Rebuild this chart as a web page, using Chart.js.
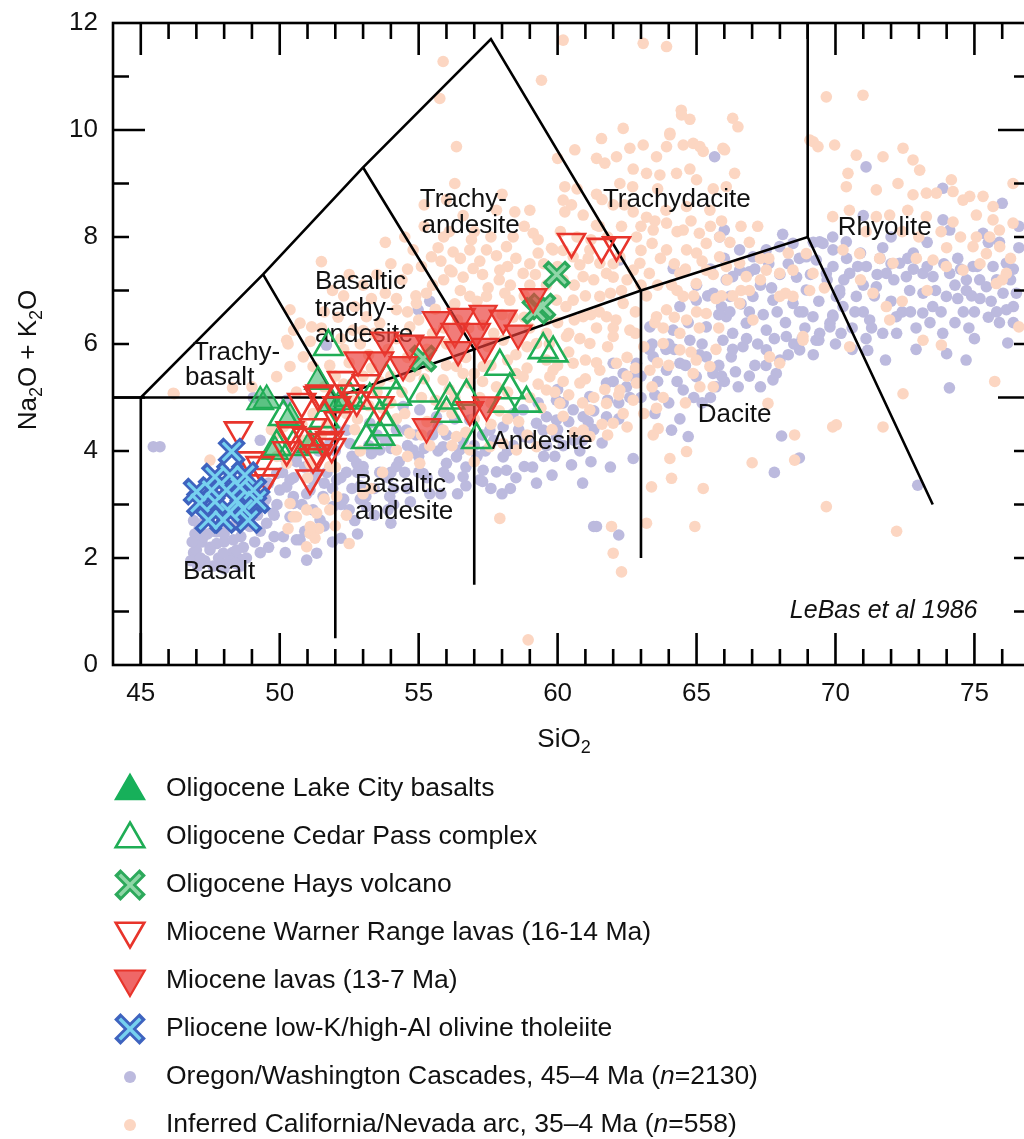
<!DOCTYPE html>
<html><head><meta charset="utf-8">
<script src="https://cdn.jsdelivr.net/npm/chart.js@4.4.1/dist/chart.umd.min.js"></script>
<style>
html,body{margin:0;padding:0;background:#fff;overflow:hidden;width:1024px;height:1139px}
#wrap{position:relative;width:1040px;height:1139px}
canvas{display:block}
</style></head>
<body><div id="wrap"><canvas id="c" width="1040" height="1139"></canvas></div>
<script>
// ---------------- DATA ----------------
const X_TICKS = [45, 50, 55, 60, 65, 70, 75];
const Y_TICKS = [0, 2, 4, 6, 8, 10, 12];
const X_TITLE = ['Si', 'O', '2'];
const Y_TITLE = ['Na', '2', 'O + K', '2', 'O'];
const SERIES_NAMES = [
  'Oligocene Lake City basalts',
  'Oligocene Cedar Pass complex',
  'Oligocene Hays volcano',
  'Miocene Warner Range lavas (16-14 Ma)',
  'Miocene lavas (13-7 Ma)',
  'Pliocene low-K/high-Al olivine tholeiite',
  'Oregon/Washington Cascades, 45\u20134 Ma (n=2130)',
  'Inferred California/Nevada arc, 35\u20134 Ma (n=558)'
];
const SOURCE_NOTE = 'LeBas et al 1986';

const LAKE_CITY = [[49.3,4.92],[49.53,4.95],[49.83,3.99],[50.37,4.61],[51.09,4.11],[51.38,5.3],[51.87,4.89],[52.22,4.92]];
const CEDAR_PASS = [[51.75,5.95],[53.84,5.33],[53.24,4.95],[54.2,5.02],[55.16,5.08],[53.6,4.64],[53.84,4.45],[53.12,4.21],[53.6,4.27],[56.12,4.95],[56.72,5.02],[56.0,4.7],[57.92,5.58],[58.28,5.14],[58.88,4.89],[58.04,4.89],[57.08,4.21],[59.48,5.89],[59.84,5.83],[50.13,4.64],[50.49,4.08],[49.89,4.08],[52.5,5.0],[51.6,4.6]];
const HAYS = [[59.97,7.3],[59.45,6.7],[59.2,6.62],[55.16,5.73]];
const WARNER = [[48.51,4.39],[48.93,3.83],[49.29,3.74],[49.53,3.52],[49.41,3.4],[50.43,4.3],[50.79,4.92],[51.38,5.05],[51.2,4.45],[51.56,4.17],[51.09,3.49],[51.38,3.96],[51.87,4.08],[52.1,4.58],[52.05,4.86],[52.22,5.33],[53.12,5.27],[52.53,5.08],[51.45,5.08],[53.6,4.86],[52.77,4.95],[50.37,4.39],[50.97,4.27],[51.8,4.21],[51.2,3.89],[50.25,4.02],[60.5,7.91],[61.58,7.82],[62.12,7.85]];
const MIOCENE = [[55.64,6.45],[56.54,6.51],[57.32,6.57],[58.04,6.48],[59.12,6.88],[58.58,6.2],[56.3,6.23],[57.08,6.23],[57.38,5.95],[56.42,5.89],[55.4,5.98],[54.68,6.01],[53.78,6.07],[54.44,5.61],[53.6,5.7],[52.82,5.7],[55.28,4.45],[56.84,4.77],[57.44,4.86]];
const PLIOCENE = [[48.27,3.99],[47.67,3.52],[48.21,3.55],[48.75,3.55],[47.01,3.24],[47.55,3.27],[48.09,3.27],[48.57,3.33],[49.05,3.27],[47.13,3.03],[47.67,3.05],[48.21,2.86],[48.69,2.92],[49.17,3.08],[47.43,2.71],[47.97,2.71],[48.87,2.71],[48.45,3.08]];

const CASCADES = [
[46.9,2.1],[47.2,2.3],[47.5,2.2],[47.8,2.0],[48.0,2.3],[48.3,2.1],[47.6,2.5],[48.1,2.6],[48.6,2.4],[48.9,2.6],[47.3,2.7],[46.9,2.7],[48.5,2.0],[47.9,1.9],[47.0,2.15],[47.25,2.4],[47.73,2.27],[48.33,2.34],[48.69,2.2],[47.97,2.09],[47.49,2.15],[48.45,2.15],[47.73,2.49],[48.93,2.59],[49.53,2.65],[49.41,2.96],[49.2,2.8],[49.5,3.1],[49.0,3.1],[48.2,1.95],[46.8,1.95],[47.1,2.55],[45.45,4.08],[45.69,4.08],
[47.3,1.95],[47.6,1.85],[48.4,1.9],[48.8,2.0],[48.0,2.45],[47.4,2.45],[48.3,2.6],[49.1,2.3],[48.7,2.75],[47.9,2.8],[49.8,2.4],[49.9,3.0],[46.95,2.45],
[47.05,1.85],[48.0,1.8],[48.6,1.85],[49.3,2.1],[49.6,2.2],[49.3,2.5],[50.2,2.1],[49.8,2.8],[47.15,2.0],[46.85,2.3],
[49.89,3.58],[50.37,3.46],[50.49,3.15],[51.09,3.27],[51.56,3.15],[52.05,3.46],[50.13,3.89],[50.0,3.27],[49.77,2.84],[50.37,2.77],[50.13,2.4],[50.73,2.34],[50.97,1.96],[51.33,2.09],[50.6,2.34],[51.2,3.46],[52.77,3.77],[53.96,3.15],[55.16,3.58],[56.0,3.77],[56.48,4.02],[57.2,3.46],[58.16,3.64],[52.41,4.39],[51.8,4.14],[50.72,3.96],[50.25,3.33],[50.97,3.2],[51.92,2.96],[51.45,2.71],[50.49,3.02],[53.12,2.96],[52.2,2.37],[54.0,2.65],[52.6,3.3],[53.0,3.6],[53.4,3.3],[53.9,3.5],[54.3,3.8],[54.0,4.05],[52.6,3.9],[53.2,4.1],[50.9,3.7],[52.3,3.1],[51.7,3.6],[52.9,3.35],[54.6,3.3],[55.0,3.9],[54.44,4.83],[55.04,4.77],[55.64,4.64],[55.88,4.08],[56.36,3.89],[54.8,4.02],[54.2,3.71],[53.6,4.02],[53.0,3.71],[52.64,3.89],[52.04,4.39],[52.53,4.14],[53.24,4.52],[54.56,4.39],[49.05,5.0],[50.25,4.95],[49.3,4.2],[51.68,5.98],[55.4,6.8],[54.98,6.64],
[50.5,3.5],[50.8,3.0],[51.3,3.6],[51.2,2.9],[51.9,3.3],[52.4,3.6],[52.0,4.0],[52.9,3.1],[53.6,3.6],[53.5,4.3],[54.1,3.3],[54.5,3.6],[54.9,4.3],[55.3,3.5],[55.7,4.0],[56.1,3.5],[56.7,3.7],[57.1,3.9],[56.3,4.6],[55.7,4.45],[54.2,4.4],[53.4,2.8],[52.7,2.7],[53.9,2.9],[54.7,3.05],[55.8,3.2],[50.1,3.6],[49.6,3.4],[51.4,4.0],[52.2,3.0],
[50.6,3.8],[51.6,3.4],[52.2,3.5],[52.8,3.6],[53.3,3.95],[53.8,4.2],[54.6,4.1],[55.2,4.05],[55.9,3.6],[56.6,4.2],[57.3,4.3],[54.1,3.0],[53.1,3.15],[52.5,2.9],[51.6,2.6],[51.9,2.3],[50.9,2.5],[52.8,2.45],[55.4,3.2],[56.4,3.2],[57.6,3.3],[55.0,3.6],[54.0,3.6],[56.7,3.35],[58.0,3.2],
[57.56,4.39],[58.04,4.45],[58.76,4.27],[59.24,4.52],[59.6,4.64],[59.96,4.95],[58.04,3.89],[57.32,3.64],[56.6,3.52],[59.96,4.27],[58.76,4.77],[56.84,4.58],[57.8,3.61],[57.3,3.43],[58.8,3.71],[59.24,3.4],[60.5,3.74],[61.3,2.59],[62.72,3.86],[61.4,2.59],[62.2,2.43],[59.48,4.39],[59.96,4.58],[60.56,4.77],[61.16,5.02],[61.76,5.27],[60.92,4.64],[61.76,4.64],[62.48,5.2],[62.84,5.64],[63.44,5.76],[62.36,5.45],[62.0,5.64],[60.2,4.1],[59.5,3.9],[58.4,4.1],[57.0,4.1],[56.0,4.3],[55.5,4.3],[60.9,4.2],[61.3,4.4],[58.3,3.3],[59.8,3.55],
[57.7,4.2],[58.2,4.0],[58.6,4.4],[59.0,4.25],[59.6,4.1],[60.0,4.4],[60.4,4.55],[60.8,4.0],[61.3,4.75],[61.8,4.95],[62.2,4.9],[62.0,5.3],[62.7,5.4],[63.0,5.0],[63.3,5.9],[63.9,5.9],[58.5,3.5],[59.1,3.7],[59.9,3.9],[57.4,4.0],
[60.2,4.9],[60.6,4.2],[61.1,4.55],[61.6,4.15],[62.2,4.6],[62.6,5.0],[63.0,5.4],[63.5,5.05],[58.4,4.7],[59.3,4.9],[60.0,5.15],[61.2,3.8],[61.9,3.7],[60.9,3.4],
[64.1,4.39],[64.7,4.27],[66.4,5.48],[66.25,5.76],[67.75,5.33],[67.87,5.45],[69.4,6.07],[69.8,6.39],[69.9,6.54],[65.6,6.95],[66.07,7.2],[66.55,7.38],[67.03,7.63],[67.51,7.76],[67.99,7.82],[68.47,7.88],[69.55,7.88],[69.91,7.76],[67.03,6.89],[67.75,6.82],[68.47,6.76],[68.95,7.01],[69.19,6.51],[66.07,6.51],[66.79,6.39],[67.51,6.26],[68.23,6.14],[68.71,5.89],[65.35,6.32],[64.76,6.07],[65.95,6.07],[66.67,5.95],[67.51,5.89],[65.35,5.76],[64.4,5.64],[63.92,5.51],[64.99,5.39],[65.59,5.45],[64.52,5.14],[63.32,6.32],[64.16,6.26],[64.4,6.7],[64.99,6.82],[66.2,6.89],[66.55,7.76],[65.83,8.0],[68.95,7.63],[69.67,7.32],[70.03,6.89],[68.06,4.28],[67.8,3.6],[68.7,3.87],[66.9,6.6],[67.3,7.1],[68.0,7.3],[68.6,7.25],[65.9,6.7],[65.2,6.0],[66.3,6.2],[67.1,5.6],[65.7,5.2],[64.2,5.9],[63.6,5.3],[65.0,7.1],[64.16,7.41],[66.3,7.26],[62.24,7.57],[65.65,9.5],[66.0,8.13],
[64.6,5.6],[65.1,5.8],[65.8,5.6],[66.3,5.9],[66.8,6.1],[67.2,6.0],[67.8,6.1],[68.2,6.4],[68.0,5.7],[68.5,6.0],[69.2,5.8],[66.5,5.2],[67.3,5.2],[65.2,4.9],[64.0,4.9],[64.4,4.6],[63.5,4.7],[65.8,6.55],[67.4,6.55],[68.9,6.3],[67.7,7.05],[68.3,7.5],[69.1,7.3],[66.9,7.35],[66.0,7.6],[65.5,7.4],[68.1,8.05],
[64.3,5.3],[64.9,5.0],[65.5,5.0],[66.0,5.3],[66.9,5.4],[67.5,5.6],[68.3,5.8],[68.8,6.1],[66.6,6.75],[66.2,6.6],[67.9,6.6],[68.7,6.6],[69.4,6.8],[67.1,7.4],[67.6,7.5],[68.7,7.6],[69.2,7.9],[65.4,6.9],[64.7,6.4],[64.0,6.0],[63.4,6.0],[65.9,5.4],
[71.1,9.31],[73.87,8.32],[73.86,8.91],[76.0,8.63],[76.2,6.02],[74.1,5.18],[72.96,3.36],[72.2,6.2],[73.14,6.58],[73.86,6.2],[74.0,5.82],[71.16,5.88],[69.3,6.07],[69.8,6.32],[70.15,6.95],[76.4,6.7],[69.43,7.91],[69.9,8.0],[70.39,7.91],[69.31,7.57],[69.91,7.45],[70.51,7.32],[71.11,7.45],[71.83,7.32],[72.31,7.51],[72.55,7.26],[73.15,7.32],[73.51,7.26],[74.11,7.32],[74.71,7.2],[75.19,7.2],[75.67,7.45],[76.15,7.51],[76.51,6.95],[70.15,7.01],[70.75,6.89],[71.47,7.07],[72.67,7.0],[73.15,6.95],[73.99,6.89],[74.71,7.0],[75.43,7.07],[76.03,6.95],[70.27,6.7],[71.23,6.45],[72.19,6.51],[76.15,6.64],[69.91,6.51],[69.43,6.2],[74.11,8.13],[75.31,8.07],[74.95,7.45],[70.9,7.7],[71.7,7.8],[72.8,7.7],[74.4,7.6],[75.9,7.9],[76.6,7.8],[71.4,6.9],[72.9,6.3],[74.6,6.6],[75.5,6.5],[70.6,6.3],[71.8,5.7],[75.0,6.1],[76.6,8.2],[68.83,6.6],
[70.4,7.6],[71.0,7.1],[71.6,7.6],[72.1,7.2],[72.8,7.4],[73.6,7.0],[74.3,7.1],[74.9,6.9],[75.6,6.8],[76.3,7.2],[70.2,6.2],[71.0,6.6],[71.7,6.2],[72.4,6.6],[73.5,6.7],[74.3,6.4],[75.0,6.6],[75.9,6.4],[70.6,5.9],[72.9,5.9],[74.7,5.7],[73.3,7.9],[72.0,8.0],[75.5,7.9],[71.0,8.4],
[69.7,7.2],[70.3,7.2],[70.8,7.45],[71.5,7.3],[72.0,7.5],[72.6,7.6],[73.3,7.45],[73.9,7.5],[74.5,7.4],[75.1,7.45],[75.8,7.2],[76.4,7.4],[70.7,6.6],[71.3,6.3],[72.0,6.8],[72.7,6.6],[73.8,6.6],[74.4,6.85],[75.2,6.85],[75.8,6.6],[76.4,6.4],[73.4,6.4],[74.8,6.3],[70.0,6.0],[71.1,6.1]
];

const CAL_NEV = [
[55.88,11.28],[55.76,10.59],[59.42,10.93],[60.2,11.68],[63.08,11.62],[63.92,11.56],[56.36,9.69],[56.3,9.0],[58.46,8.47],[60.62,9.63],[60.0,9.47],[60.26,8.94],[60.2,8.69],[60.26,8.47],[64.46,10.28],[64.76,10.2],[66.3,10.22],[62.36,10.03],[61.58,9.84],[61.4,9.47],[61.7,9.38],[62.12,9.5],[62.6,9.66],[63.08,9.72],[63.56,9.5],[63.92,9.69],[64.04,9.91],[64.52,9.72],[64.88,9.75],[65.24,9.6],[65.95,9.66],[62.72,9.27],[63.2,9.19],[63.68,9.16],[64.28,9.19],[64.76,9.27],[65.0,9.07],[62.24,9.0],[62.7,8.94],[60.92,8.41],[61.4,8.22],[62.72,8.47],[63.2,8.37],[63.44,8.13],[63.92,8.26],[64.52,8.13],[65.1,8.07],[65.83,8.0],[64.64,8.57],[65.48,8.5],[66.07,8.94],[66.37,9.19],[64.45,10.37],[66.49,10.06],[66.01,9.63],[65.12,9.69],[64.04,9.94],
[59.12,8.07],[59.78,7.79],[58.16,7.82],[57.44,7.76],[56.84,7.76],[56.24,7.72],[56.12,7.38],[56.96,7.41],[57.92,7.38],[58.76,7.32],[60.8,7.48],[61.52,7.51],[62.72,7.38],[55.46,7.63],[54.8,7.76],[55.5,7.1],[56.5,7.0],[57.5,7.05],[58.3,7.1],[59.2,7.3],[60.2,7.2],[54.9,6.9],[55.28,6.95],[56.84,6.89],[57.44,6.89],[58.28,6.82],[59.96,6.82],[59.6,6.45],[58.04,6.07],[59.24,6.01],[54.2,6.64],[54.68,6.32],[54.92,6.76],[53.12,6.51],[53.6,6.39],[52.64,6.26],[60.8,6.1],[61.5,6.6],[62.3,7.0],
[55.1,7.45],[55.8,7.55],[56.5,7.6],[57.2,7.55],[57.8,7.65],[58.5,7.6],[59.3,7.7],[59.5,7.5],[60.2,7.75],[55.9,8.0],[57.0,8.1],[58.8,8.2],[56.6,8.4],[57.8,8.5],[55.2,8.2],
[53.8,6.95],[54.4,7.2],[55.9,7.2],[56.3,6.75],[57.1,6.8],[57.9,7.2],[58.8,6.9],[59.6,7.1],[60.3,6.7],[61.0,6.9],[61.9,6.95],[62.5,7.2],[53.3,6.85],[54.0,7.5],
[52.1,6.5],[52.7,6.7],[53.4,6.2],[54.2,6.1],[55.0,6.45],[55.9,6.3],[56.8,6.3],[57.7,6.2],[58.4,6.5],[59.0,6.3],[60.0,6.4],[60.6,6.45],[61.4,6.3],[62.1,6.45],[62.8,6.6],[63.2,6.9],[63.6,7.1],
[51.1,6.05],[51.8,5.6],[52.5,5.65],[53.2,5.8],[53.9,5.9],[54.6,5.75],[55.3,5.9],[56.0,6.0],[56.7,5.75],[57.5,5.95],[58.2,5.7],[58.9,5.95],[59.7,6.0],[60.4,5.85],[61.0,5.7],[61.8,5.95],[62.5,5.75],[63.1,5.95],[63.8,6.3],
[50.6,5.1],[51.6,5.2],[52.3,5.25],[53.0,5.4],[53.6,5.3],[54.4,5.1],[55.2,5.35],[56.1,5.15],[56.6,5.45],[57.3,5.3],[58.2,5.1],[58.9,5.55],[59.3,5.25],[60.4,5.05],[61.0,5.35],[61.7,5.15],[62.5,5.4],[63.4,5.2],[64.0,5.6],[64.4,6.2],
[51.2,4.7],[52.8,4.6],[53.7,4.8],[54.5,4.7],[55.3,4.55],[56.2,4.7],[57.0,4.6],[57.9,4.75],[58.6,4.55],[59.4,4.8],[60.2,4.65],[60.9,4.9],[61.6,4.5],[62.5,4.45],[63.1,4.7],
[52.6,4.95],[54.0,4.9],[55.6,4.95],[57.6,4.9],[59.9,5.1],[61.3,5.0],[62.2,5.05],[63.8,5.0],[64.6,4.9],
[52.0,5.4],[53.3,5.55],[54.9,5.5],[56.0,5.6],[57.0,5.45],[58.5,5.45],[60.0,5.6],[61.4,5.65],[62.8,5.55],[63.6,5.65],[64.8,5.85],[65.7,5.9],
[51.5,6.3],[52.2,6.1],[53.0,6.25],[54.6,6.6],[55.5,6.2],[56.4,6.45],[57.3,6.35],[58.0,6.55],[58.8,6.5],[59.6,6.2],[60.4,6.2],[61.2,6.55],[62.0,6.3],[62.8,6.2],[63.5,6.4],[64.2,6.5],[65.0,6.6],[65.9,6.9],[66.6,7.0],
[52.3,6.9],[53.0,7.1],[54.2,6.85],[55.6,6.65],[56.6,7.25],[58.1,6.95],[59.0,7.1],[60.6,7.1],[61.3,7.2],[62.0,7.25],[63.0,7.1],[64.3,7.0],[64.9,6.9],[65.7,6.85],[67.3,7.2],[68.2,6.95],
[52.5,7.3],[53.5,7.3],[54.6,7.4],[55.7,7.8],[56.2,7.35],[57.3,7.3],[58.2,7.45],[59.0,7.5],[60.0,7.45],[61.1,7.6],[62.0,7.5],[63.0,7.75],[64.2,7.5],[65.2,7.55],[66.1,7.2],[67.6,7.6],[68.3,7.7],
[53.8,7.9],[54.5,8.0],[56.1,8.1],[56.9,7.95],[57.6,8.0],[58.4,8.0],[59.3,7.95],[60.7,8.0],[61.5,8.2],[62.3,8.2],[63.5,8.3],[64.8,8.3],[65.9,8.3],[66.6,8.2],[67.2,8.2],[55.2,8.6],[56.0,8.7],[58.0,8.8],[59.0,8.5],[60.5,8.6],[61.4,8.8],[62.0,8.6],
[51.5,7.54],[51.9,7.0],[51.15,6.32],[50.5,6.26],[50.3,6.0],[50.37,6.64],[50.73,6.39],[50.25,6.07],[50.85,5.76],[50.37,5.58],[49.89,5.39],[51.2,5.58],[52.3,5.9],[52.9,6.0],[51.6,6.6],[46.2,5.07],[48.3,5.18],[49.0,5.2],
[57.32,5.58],[56.36,5.58],[55.4,5.58],[54.68,5.39],[55.88,5.33],[56.84,5.27],[57.8,5.2],[58.76,5.39],[59.72,5.39],[55.88,4.83],[54.68,4.33],[55.88,4.39],[56.36,4.27],[56.84,4.02],[57.56,4.08],[58.04,4.14],[58.52,4.02],[59.24,4.08],[54.2,4.02],[55.04,3.77],[53.5,5.1],[54.0,5.4],[55.1,5.0],[56.3,5.0],[57.2,5.0],[58.2,4.6],[59.0,5.0],[59.6,5.7],[58.5,5.8],[57.6,5.6],[60.2,5.3],[60.08,4.89],[59.6,5.14],[60.8,5.27],[61.52,5.51],[62.12,5.64],[60.56,5.64],[59.84,5.51],[61.16,6.01],[60.32,6.14],[62.0,6.14],[62.6,6.26],[61.76,6.51],[60.92,6.51],[62.36,6.76],[61.52,6.89],[60.56,6.82],[60.92,7.26],[61.76,7.32],[62.24,7.63],[61.16,7.76],[60.56,7.63],[59.84,7.76],[62.96,7.51],[63.3,7.32],[64.4,7.32],[66.07,7.45],[66.55,7.51],[66.79,7.26],[62.84,8.0],[63.4,7.88],[63.92,7.76],[64.64,7.76],[65.35,7.88],[65.83,7.63],[67.51,7.38],[67.99,7.32],[68.47,7.38],[67.99,6.89],[68.47,6.89],[68.83,6.07],[67.63,5.76],[67.99,5.64],[67.03,6.45],[66.55,6.76],[65.35,7.38],[64.99,7.13],[64.52,6.89],[63.92,6.64],[63.56,6.51],[64.64,6.45],[65.35,6.57],[63.8,6.01],[64.4,5.89],[64.99,5.7],[65.48,5.58],[65.12,5.2],[65.6,5.2],[64.88,5.45],[63.32,5.51],[62.84,5.27],[62.24,5.14],[61.76,4.89],[61.16,4.77],[62.36,4.7],[62.72,4.95],[62.0,4.52],[60.92,4.39],[61.16,4.27],
[63.7,7.6],[64.1,7.1],[64.6,7.4],[65.0,7.7],[65.6,7.3],[66.2,7.9],[66.9,7.9],[67.3,7.6],[66.3,6.9],[65.8,6.3],[65.1,6.3],[66.9,7.0],[63.9,8.5],[64.3,8.1],[65.5,8.2],[63.0,8.2],[61.8,8.0],[61.2,7.95],[60.1,8.1],[62.4,8.6],[61.6,8.7],[60.7,8.9],[63.6,8.9],[65.6,8.9],
[52.0,3.7],[52.9,4.0],[53.7,3.6],[54.6,3.9],[55.4,4.1],[56.2,4.1],[57.0,3.8],[53.3,3.3],[52.4,2.8],[51.6,3.1],[50.2,3.9],[49.7,4.4],[49.3,3.2],[48.6,3.7],[50.8,4.5],[51.5,4.3],[52.7,4.4],
[50.9,4.2],[51.7,4.5],[52.4,4.7],[53.2,4.85],[54.2,4.6],[55.1,4.3],[56.7,4.35],[57.6,4.5],[58.9,4.3],[59.8,4.4],[60.6,4.35],[61.8,4.3],[53.0,3.2],[51.0,3.5],[49.9,3.9],[51.4,2.55],[52.0,2.6],[50.3,2.55],
[47.49,3.83],[50.6,2.77],[50.97,2.9],[51.33,2.84],[51.09,2.46],[50.37,3.02],[52.05,3.15],[51.8,2.9],[50.73,4.08],[50.25,3.77],[51.09,3.77],[51.8,3.71],[46.17,5.08],[49.89,4.33],[50.13,4.45],[57.92,2.74],[58.94,0.47],[52.5,2.27],[51.27,2.37],[50.97,2.21],[50.49,2.77],[51.1,2.59],[63.56,4.8],[63.44,4.3],[63.62,4.42],[64.04,3.86],[64.64,3.99],[64.1,3.49],[63.38,3.33],[65.24,3.3],[63.2,2.65],[64.94,2.59],[61.94,2.59],[68.53,3.83],[68.53,4.3],[67.57,4.89],[69.9,4.45],[62.3,1.74],[62.0,2.09],[72.2,2.5],[67.0,3.78],
[69.67,10.62],[70.99,10.65],[69.2,9.78],[69.97,9.72],[70.75,9.53],[71.71,9.5],[72.43,9.66],[72.79,9.44],[73.03,9.25],[70.45,9.19],[70.39,8.94],[71.47,8.88],[72.25,9.0],[72.79,8.79],[73.27,8.82],[73.63,8.82],[74.17,9.07],[74.23,8.85],[74.59,8.69],[74.83,8.76],[75.31,8.76],[75.67,8.57],[76.39,9.0],[69.9,8.38],[71.47,8.38],[71.95,8.41],[73.27,8.38],[74.23,8.28],[75.07,8.41],[75.67,8.32],[75.07,8.0],[75.55,8.0],[75.9,8.13],[76.39,8.26],[68.95,7.69],[70.27,7.76],[70.87,7.69],[71.59,7.6],[72.07,7.51],[72.91,7.6],[73.51,7.57],[73.99,7.45],[74.59,7.38],[74.95,7.82],[75.43,7.69],[75.91,7.82],[76.15,7.32],[75.79,7.13],[71.35,6.95],[71.83,6.7],[71.95,6.45],[70.51,5.95],[73.15,6.07],[73.81,5.98],[69.19,7.32],[69.07,7.0],[68.83,6.14],[72.43,5.07],[70.03,4.49],[71.71,4.45],[75.73,5.3],[69.67,2.96],[76.6,6.32],[69.08,9.81],[69.37,9.69],
[72.4,8.1],[73.0,8.0],[73.8,8.1],[74.5,8.0],[76.3,7.6],[71.1,8.1],[70.5,8.5],[72.6,8.5],[74.0,7.8],[76.0,7.2],[75.2,7.5],[73.3,7.0],[72.4,6.8],[70.9,7.2],[69.6,7.05]
];

// TAS field boundaries (Le Bas et al. 1986), as drawn
const BOUNDARIES = [
  [[44,5],[52,5],[57,5.9],[63,7],[69,8],[73.5,3]],
  [[45,0],[45,5],[49.4,7.3],[53,9.3],[57.6,11.7],[63,7],[63,2]],
  [[49.4,7.3],[52,5],[52,0.5]],
  [[53,9.3],[57,5.9],[57,1.5]],
  [[69,8],[69,12]]
];
const FIELD_NAMES = ['Trachy-','basalt','Basaltic','trachy-','andesite','Trachy-','andesite','Trachydacite','Rhyolite','Dacite','Andesite','Basaltic','andesite','Basalt'];
// label anchor (left, middle) in data units
const FIELD_ANCHORS = [[46.88,5.83],[46.59,5.36],[51.27,7.16],[51.27,6.66],[51.27,6.18],[55.04,8.69],[55.1,8.2],[61.63,8.69],[70.08,8.17],[65.04,4.67],[57.62,4.17],[52.71,3.36],[52.71,2.87],[46.52,1.74]];
const NOTE_ANCHOR = [75.11, 1.0];

// ---------------- STYLE ----------------
const F = '"Liberation Sans", Arial, Helvetica, sans-serif';
const C = {
  lav:'#bcbade', peach:'#fcd6c2',
  green:'#1fad55', greenFill:'rgba(50,178,100,0.55)', greenSolid:'#17b05a',
  hOut:'#2ca95b', hIn:'#90d6a7',
  red:'#e8342b', redFill:'rgba(234,62,58,0.68)', redSolid:'#ef6767',
  bOut:'#3e63bf', bIn:'#76d1ef'
};
const P = a => a.map(p => ({x:p[0], y:p[1]}));

function dots(data, color, order){
  return {data:P(data), pointRadius:5.8, pointHoverRadius:5.8, pointBackgroundColor:color, pointBorderColor:color, pointBorderWidth:0, order};
}
function sym(data, o){ return Object.assign({data:P(data), pointHoverRadius:o.pointRadius}, o); }

const datasets = [];
datasets.push(dots(CASCADES, C.lav, 100));
datasets.push(dots(CAL_NEV, C.peach, 95));
BOUNDARIES.forEach((b,i) => datasets.push({data:P(b), showLine:true, borderColor:'#000', borderWidth:2.6, pointRadius:0, pointHoverRadius:0, tension:0, fill:false, order:80-i}));
datasets.push(sym(LAKE_CITY, {pointStyle:'triangle', pointRadius:15, pointBackgroundColor:C.greenFill, pointBorderColor:C.green, pointBorderWidth:2, order:60, labelsBefore:true}));
datasets.push(sym(CEDAR_PASS, {pointStyle:'triangle', pointRadius:16.5, pointBackgroundColor:'rgba(0,0,0,0)', pointBorderColor:C.green, pointBorderWidth:2.6, order:58}));
datasets.push(sym(HAYS, {pointStyle:'crossRot', pointRadius:16, pointBorderColor:C.hOut, pointBorderWidth:8.5, order:56}));
datasets.push(sym(HAYS, {pointStyle:'crossRot', pointRadius:12.5, pointBorderColor:C.hIn, pointBorderWidth:3.2, order:55}));
datasets.push(sym(WARNER, {pointStyle:'triangle', pointRotation:180, pointRadius:15.5, pointBackgroundColor:'rgba(0,0,0,0)', pointBorderColor:C.red, pointBorderWidth:2.6, order:54}));
datasets.push(sym(MIOCENE, {pointStyle:'triangle', pointRotation:180, pointRadius:15.5, pointBackgroundColor:C.redFill, pointBorderColor:C.red, pointBorderWidth:2.2, order:52}));
datasets.push(sym(PLIOCENE, {pointStyle:'crossRot', pointRadius:16, pointBorderColor:C.bOut, pointBorderWidth:8.5, order:50}));
datasets.push(sym(PLIOCENE, {pointStyle:'crossRot', pointRadius:12.5, pointBorderColor:C.bIn, pointBorderWidth:3.2, order:49}));

// ---------------- helpers ----------------
function richText(ctx, parts, x, y, size, align){
  const fontOf = p => (p.it?'italic ':'') + (p.sub?Math.round(size*0.68):size) + 'px ' + F;
  const w = parts.map(p => { ctx.font = fontOf(p); return ctx.measureText(p.t).width; });
  const total = w.reduce((a,b)=>a+b,0);
  let cx = align==='center' ? x - total/2 : (align==='right' ? x - total : x);
  ctx.textAlign = 'left';
  parts.forEach((p,i) => {
    ctx.font = fontOf(p);
    ctx.fillText(p.t, cx, y + (p.sub ? size*0.3 : 0));
    cx += w[i];
  });
}
function triPath(ctx, x, y, r, down){
  ctx.beginPath();
  for (let k=0;k<3;k++){
    const a = k*2*Math.PI/3;
    const dx = Math.sin(a)*r, dy = Math.cos(a)*r;
    if (k===0) ctx.moveTo(x+dx, down ? y+dy : y-dy); else ctx.lineTo(x+dx, down ? y+dy : y-dy);
  }
  ctx.closePath();
}
function xMark(ctx, x, y, r, lw, color){
  const d = r*Math.SQRT1_2;
  ctx.beginPath();
  ctx.moveTo(x-d,y-d); ctx.lineTo(x+d,y+d);
  ctx.moveTo(x+d,y-d); ctx.lineTo(x-d,y+d);
  ctx.lineWidth = lw; ctx.strokeStyle = color; ctx.lineCap = 'butt'; ctx.stroke();
}

const decor = {
  id:'decor',
  beforeDatasetDraw(chart, args){
    if (!chart.data.datasets[args.index].labelsBefore) return;
    const ctx = chart.ctx, xs = chart.scales.x, ys = chart.scales.y;
    ctx.save();
    ctx.fillStyle = '#111'; ctx.textBaseline = 'middle'; ctx.textAlign = 'left';
    ctx.font = '26px ' + F;
    FIELD_NAMES.forEach((t,i) => ctx.fillText(t, xs.getPixelForValue(FIELD_ANCHORS[i][0]), ys.getPixelForValue(FIELD_ANCHORS[i][1])));
    ctx.font = 'italic 25px ' + F; ctx.textAlign = 'right';
    ctx.fillText(SOURCE_NOTE, xs.getPixelForValue(NOTE_ANCHOR[0]), ys.getPixelForValue(NOTE_ANCHOR[1]));
    ctx.restore();
  },
  afterDatasetsDraw(chart){
    const ctx = chart.ctx, a = chart.chartArea, xs = chart.scales.x, ys = chart.scales.y;
    ctx.save();
    ctx.strokeStyle = '#000'; ctx.lineWidth = 2.6; ctx.lineCap = 'butt';
    ctx.strokeRect(a.left, a.top, a.right - a.left, a.bottom - a.top);
    ctx.beginPath();
    for (let v = Math.ceil(xs.min)+1; v < xs.max; v++){
      const px = xs.getPixelForValue(v), L = v%5===0 ? 32 : 16;
      ctx.moveTo(px, a.bottom); ctx.lineTo(px, a.bottom - L);
      ctx.moveTo(px, a.top); ctx.lineTo(px, a.top + L);
    }
    for (let v = ys.min+1; v < ys.max; v++){
      const py = ys.getPixelForValue(v), L = v%5===0 ? 32 : 16;
      ctx.moveTo(a.left, py); ctx.lineTo(a.left + L, py);
      ctx.moveTo(a.right, py); ctx.lineTo(a.right - L, py);
    }
    ctx.stroke();
    ctx.restore();
  },
  afterDraw(chart){
    const ctx = chart.ctx;
    ctx.save();
    ctx.fillStyle = '#111'; ctx.textBaseline = 'middle';
    richText(ctx, [{t:X_TITLE[0]+X_TITLE[1]},{t:X_TITLE[2],sub:true}], 564, 740, 26, 'center');
    ctx.save();
    ctx.translate(29, 360); ctx.rotate(-Math.PI/2);
    richText(ctx, [{t:Y_TITLE[0]},{t:Y_TITLE[1],sub:true},{t:Y_TITLE[2]},{t:Y_TITLE[3],sub:true},{t:Y_TITLE[4]}], 0, 0, 26, 'center');
    ctx.restore();
    const mx = 130, tx = 166, y0 = 789, dy = 48;
    SERIES_NAMES.forEach((name, i) => {
      const y = y0 + i*dy;
      ctx.save();
      if (i===0){ triPath(ctx, mx, y+2, 17, false); ctx.fillStyle=C.greenSolid; ctx.fill(); ctx.lineWidth=1.5; ctx.strokeStyle=C.greenSolid; ctx.stroke(); }
      if (i===1){ triPath(ctx, mx, y+2, 16.5, false); ctx.lineWidth=2.6; ctx.strokeStyle=C.green; ctx.stroke(); }
      if (i===2){ xMark(ctx, mx, y, 18, 9, C.hOut); xMark(ctx, mx, y, 14.5, 3.5, C.hIn); }
      if (i===3){ triPath(ctx, mx, y-2, 16.5, true); ctx.lineWidth=2.6; ctx.strokeStyle=C.red; ctx.stroke(); }
      if (i===4){ triPath(ctx, mx, y-2, 17, true); ctx.fillStyle=C.redSolid; ctx.fill(); ctx.lineWidth=2.2; ctx.strokeStyle=C.red; ctx.stroke(); }
      if (i===5){ xMark(ctx, mx, y, 18, 9, C.bOut); xMark(ctx, mx, y, 14.5, 3.5, C.bIn); }
      if (i===6 || i===7){ ctx.beginPath(); ctx.arc(mx, y, 6, 0, Math.PI*2); ctx.fillStyle = i===6 ? C.lav : C.peach; ctx.fill(); }
      ctx.restore();
      ctx.fillStyle = '#111'; ctx.textAlign = 'left'; ctx.textBaseline = 'middle';
      const m = name.match(/^(.*\()n(=.*)$/);
      if (m) richText(ctx, [{t:m[1]},{t:'n',it:true},{t:m[2]}], tx, y, 26.5, 'left');
      else { ctx.font = '26.5px ' + F; ctx.fillText(name, tx, y); }
    });
    ctx.restore();
  }
};

new Chart(document.getElementById('c'), {
  type:'scatter',
  data:{datasets},
  options:{
    responsive:false, animation:false, events:[],
    layout:{autoPadding:false, padding:{top:23, right:10, left:0, bottom:0}},
    plugins:{legend:{display:false}, tooltip:{enabled:false}},
    scales:{
      x:{type:'linear', min:44, max:77,
         grid:{display:false, drawTicks:false}, border:{display:false},
         afterBuildTicks:s => { s.ticks = X_TICKS.map(v => ({value:v})); },
         afterFit:s => { s.height = 474; s.paddingLeft = 0; s.paddingRight = 0; },
         ticks:{padding:13, autoSkip:false, maxRotation:0, color:'#111', font:{family:F, size:26}}},
      y:{type:'linear', min:0, max:12,
         grid:{display:false, drawTicks:false}, border:{display:false},
         afterBuildTicks:s => { s.ticks = Y_TICKS.map(v => ({value:v})); },
         afterFit:s => { s.width = 113; s.paddingTop = 0; s.paddingBottom = 0; },
         ticks:{padding:15, autoSkip:false, color:'#111', font:{family:F, size:26}}}
    }
  },
  plugins:[decor]
});
</script>
</body></html>
